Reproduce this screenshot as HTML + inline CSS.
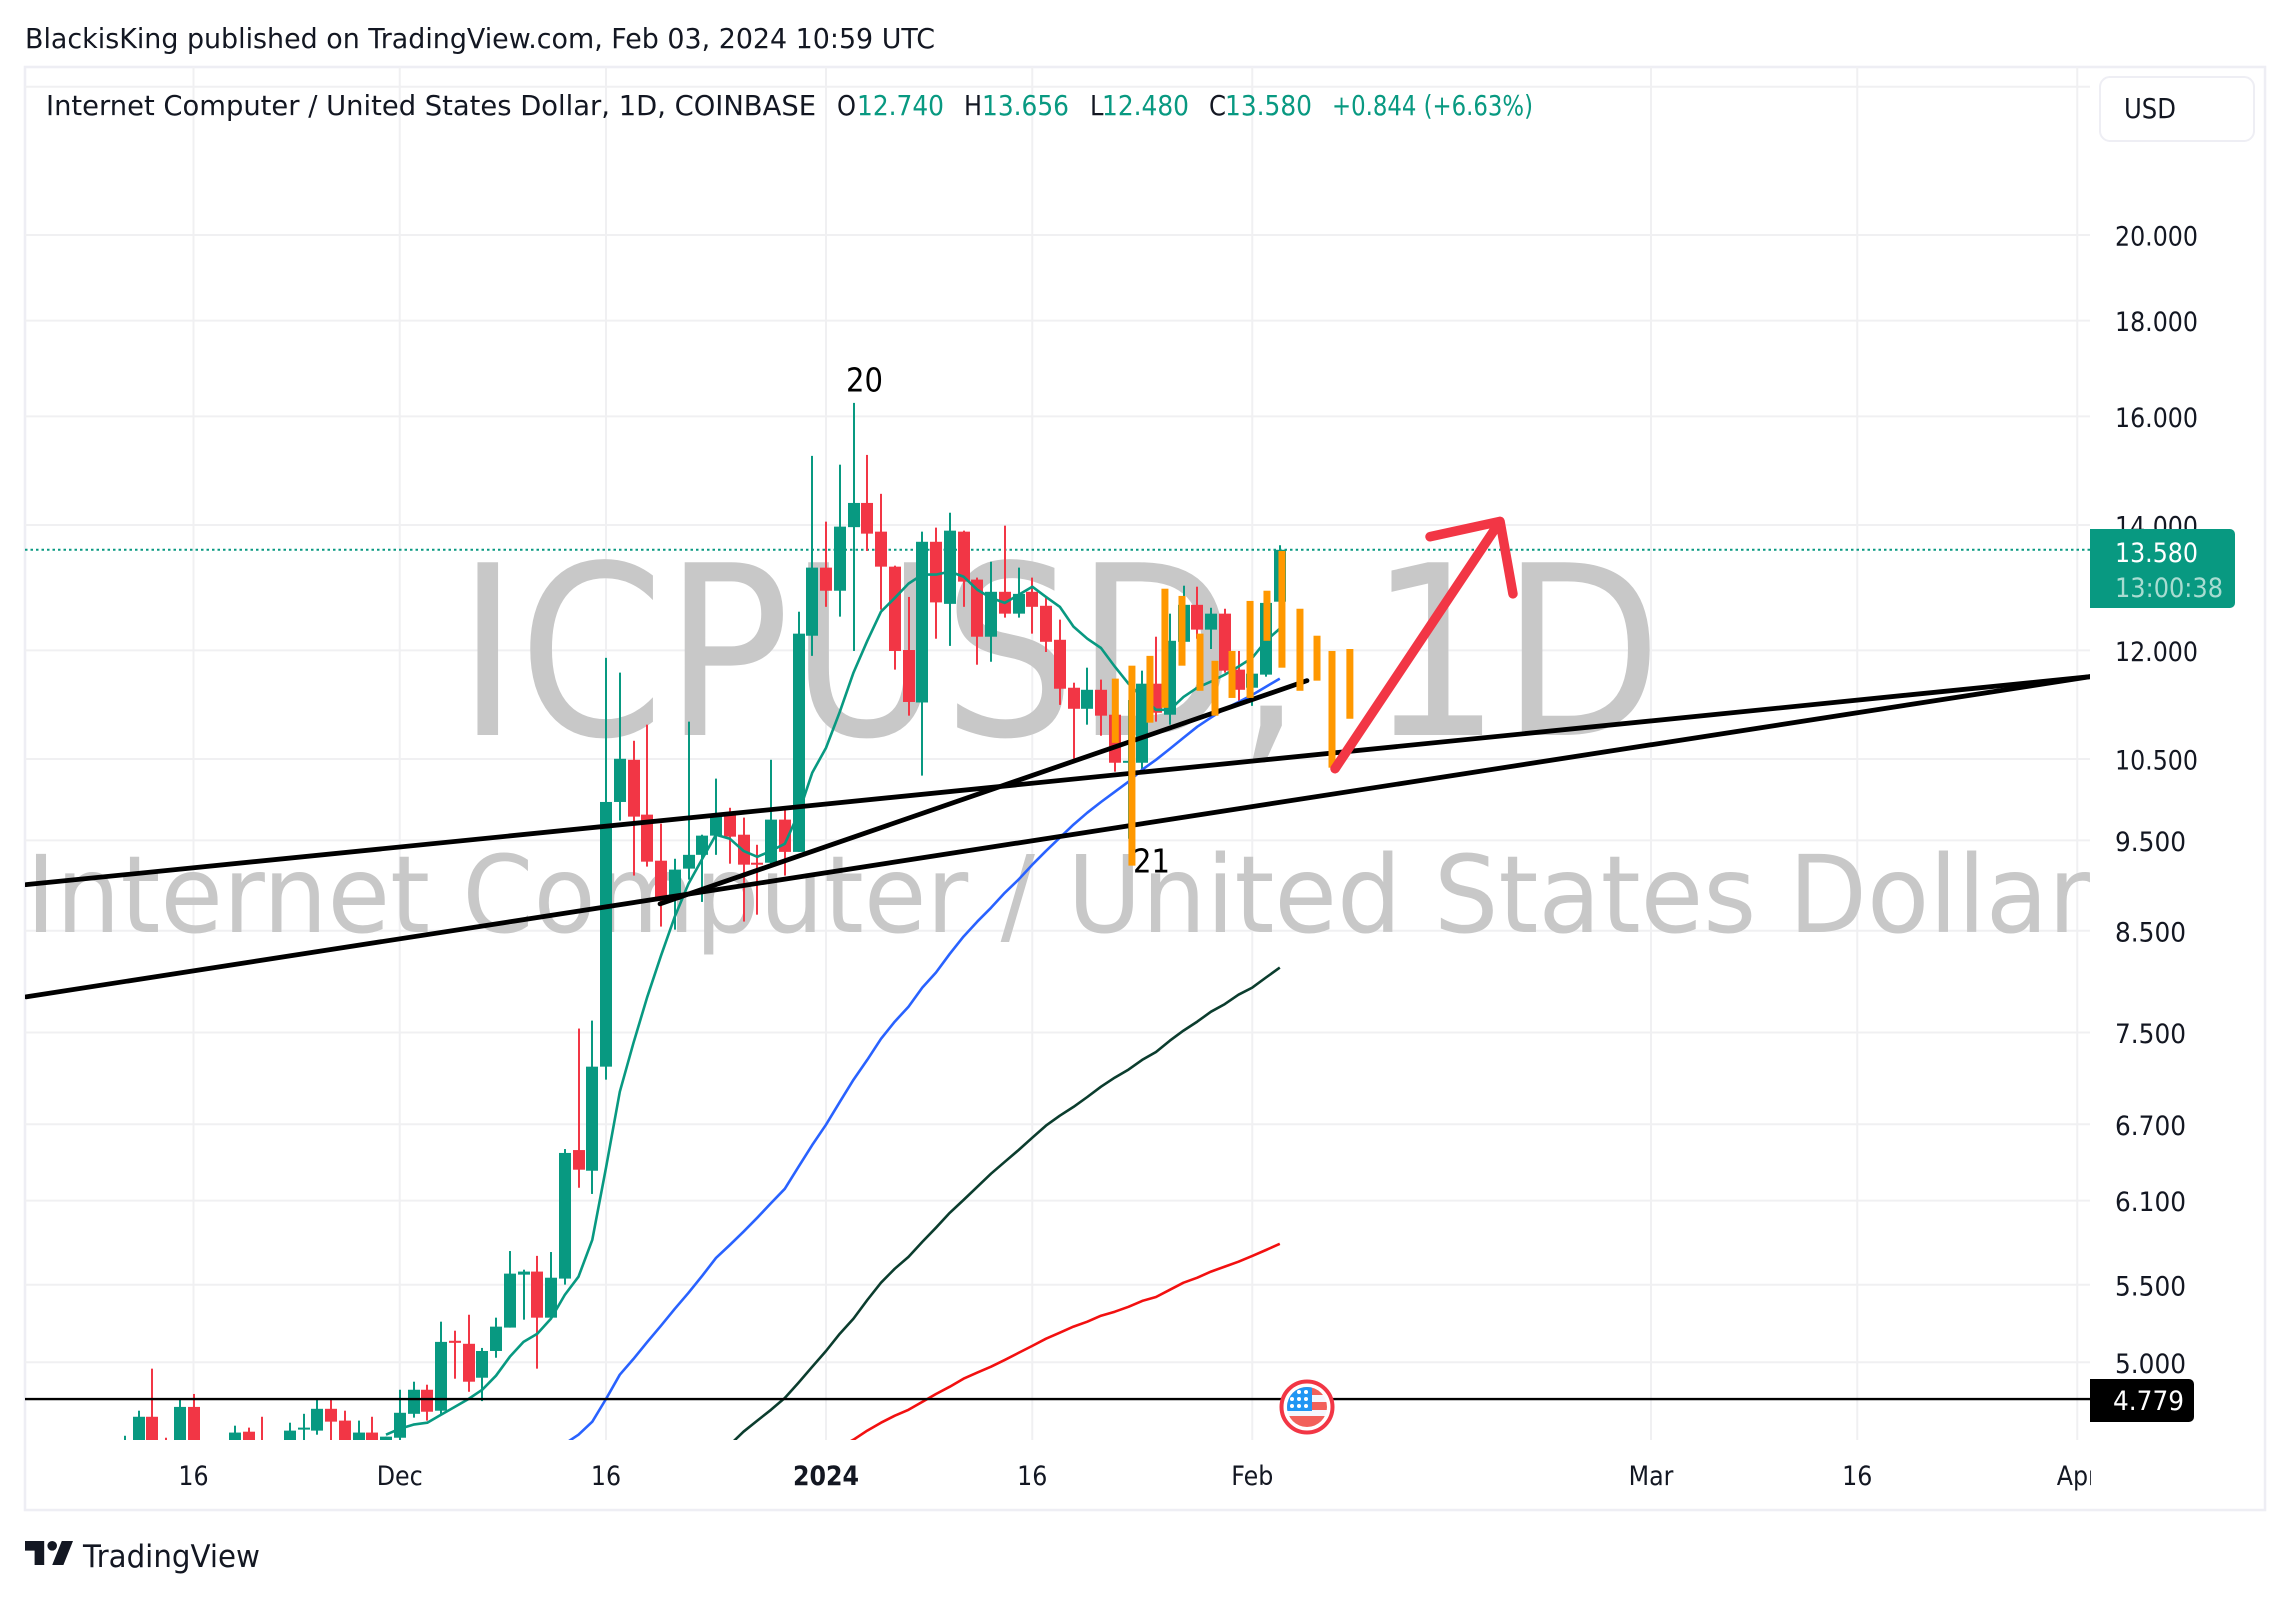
<!DOCTYPE html>
<html lang="en">
<head>
<meta charset="utf-8">
<title>ICPUSD 1D chart</title>
<style>
html,body{margin:0;padding:0;background:#fff;width:2290px;height:1598px;overflow:hidden}
svg{display:block}
text{font-family:"DejaVu Sans","Liberation Sans",sans-serif;fill:#131722}
</style>
</head>
<body>
<svg id="chart" xmlns="http://www.w3.org/2000/svg" width="2290" height="1598" viewBox="0 0 2290 1598">
  <defs>
    <clipPath id="plot-clip"><rect x="25" y="67" width="2065" height="1373"/></clipPath>
    <clipPath id="flag-clip"><circle cx="1307" cy="1407" r="20"/></clipPath>
  </defs>
  <rect x="0" y="0" width="2290" height="1598" fill="#ffffff"/>
  <text x="25" y="48" font-size="27.5" textLength="910" lengthAdjust="spacingAndGlyphs">BlackisKing published on TradingView.com, Feb 03, 2024 10:59 UTC</text>
  <rect x="25" y="67" width="2240" height="1443" fill="none" stroke="#eeeef4" stroke-width="2.5"/>
  <g id="grid"></g>
  <g clip-path="url(#plot-clip)">
    <text x="457" y="735" font-size="237" textLength="1205" lengthAdjust="spacingAndGlyphs" style="fill:#c8c8c8">ICPUSD, 1D</text>
    <text x="26" y="932" font-size="107" textLength="2064" lengthAdjust="spacingAndGlyphs" style="fill:#c8c8c8">Internet Computer / United States Dollar</text>
  </g>
  <g id="plot" clip-path="url(#plot-clip)"></g>
  <g>
    <circle cx="1307" cy="1407" r="25.5" fill="#ffffff" stroke="#f23645" stroke-width="4"/>
    <g clip-path="url(#flag-clip)">
      <rect x="1285" y="1385" width="44" height="44" fill="#f5f7fd"/>
      <rect x="1285" y="1387" width="44" height="8" fill="#f2605a"/>
      <rect x="1285" y="1402" width="44" height="8" fill="#f2605a"/>
      <rect x="1285" y="1416" width="44" height="12" fill="#f2605a"/>
      <rect x="1285" y="1385" width="27" height="26" fill="#2196f3"/>
      <g fill="#ffffff">
        <circle cx="1299" cy="1392" r="2"/><circle cx="1306" cy="1392" r="2"/>
        <circle cx="1292" cy="1399" r="2"/><circle cx="1299" cy="1399" r="2"/><circle cx="1306" cy="1399" r="2"/>
        <circle cx="1292" cy="1406" r="2"/><circle cx="1299" cy="1406" r="2"/><circle cx="1306" cy="1406" r="2"/>
      </g>
    </g>
  </g>
  <g id="price-axis"></g>
  <g id="time-axis"></g>
  <g>
    <path d="M2090 529H2230a5 5 0 0 1 5 5V603a5 5 0 0 1 -5 5H2090Z" fill="#089981"/>
    <text x="2115" y="562" font-size="27" textLength="83" lengthAdjust="spacingAndGlyphs" style="fill:#ffffff">13.580</text>
    <text x="2115" y="597" font-size="27" textLength="108" lengthAdjust="spacingAndGlyphs" style="fill:#a8dcd1">13:00:38</text>
  </g>
  <g>
    <path d="M2090 1379H2189a5 5 0 0 1 5 5V1417a5 5 0 0 1 -5 5H2090Z" fill="#000000"/>
    <text x="2113" y="1410" font-size="27" textLength="71" lengthAdjust="spacingAndGlyphs" style="fill:#ffffff">4.779</text>
  </g>
  <g>
    <text x="46" y="115" font-size="27.5" textLength="770" lengthAdjust="spacingAndGlyphs">Internet Computer / United States Dollar, 1D, COINBASE</text>
    <text x="837" y="115" font-size="27.5" textLength="19" lengthAdjust="spacingAndGlyphs">O</text>
    <text x="857" y="115" font-size="27.5" textLength="87" lengthAdjust="spacingAndGlyphs" style="fill:#089981">12.740</text>
    <text x="964" y="115" font-size="27.5" textLength="18" lengthAdjust="spacingAndGlyphs">H</text>
    <text x="982" y="115" font-size="27.5" textLength="87" lengthAdjust="spacingAndGlyphs" style="fill:#089981">13.656</text>
    <text x="1090" y="115" font-size="27.5" textLength="13.5" lengthAdjust="spacingAndGlyphs">L</text>
    <text x="1102" y="115" font-size="27.5" textLength="87" lengthAdjust="spacingAndGlyphs" style="fill:#089981">12.480</text>
    <text x="1209" y="115" font-size="27.5" textLength="17" lengthAdjust="spacingAndGlyphs">C</text>
    <text x="1225" y="115" font-size="27.5" textLength="87" lengthAdjust="spacingAndGlyphs" style="fill:#089981">13.580</text>
    <text x="1332" y="115" font-size="27.5" textLength="201" lengthAdjust="spacingAndGlyphs" style="fill:#089981">+0.844 (+6.63%)</text>
  </g>
  <g>
    <rect x="2100" y="77" width="154" height="64" rx="10" fill="#ffffff" stroke="#eeeef4" stroke-width="2"/>
    <text x="2124" y="118" font-size="27.5" textLength="52" lengthAdjust="spacingAndGlyphs">USD</text>
  </g>
  <g>
    <path transform="translate(21.8 1531.4) scale(1.6)" fill="#131722" d="M14 6H2v6h6v9h6V6zm12 15h-7l6-15h7l-6 15zm-7-9a3 3 0 1 0 0-6 3 3 0 0 0 0 6z"/>
    <text x="83" y="1567" font-size="31" textLength="177" lengthAdjust="spacingAndGlyphs">TradingView</text>
  </g>
</svg>
<script>
// ---- chart data (prices in USD, days counted from 2024-01-01) ----
const firstCandleDay = -51;
const opens = [4.45,4.45,4.676,4.50,4.45,4.733,4.45,4.42,4.46,4.591,4.52,4.46,4.50,4.603,4.597,4.722,4.654,4.48,4.586,4.46,
4.557,4.693,4.834,4.711,5.134,5.115,4.906,5.070,5.218,5.569,5.590,5.282,5.542,6.491,6.328,7.192,9.959,10.489,9.805,9.265,
8.828,9.175,9.332,9.555,9.805,9.566,9.242,9.242,9.745,9.366,12.218,13.285,12.913,13.963,14.385,13.886,13.301,12.005,11.255,13.714,
12.706,13.886,13.091,12.203,12.896,12.554,12.896,12.676,12.157,11.461,11.168,11.432,11.087,10.451,10.451,11.518,11.087,12.127,12.691,12.310,
12.554,11.719,11.461,11.647,12.740];
const highs = [4.568,4.711,4.961,4.557,4.773,4.809,4.50,4.50,4.625,4.614,4.676,4.52,4.642,4.693,4.773,4.773,4.711,4.654,4.676,4.563,
4.834,4.882,4.864,5.256,5.198,5.301,5.089,5.282,5.733,5.603,5.699,5.726,6.499,7.537,7.611,11.890,11.676,10.737,10.952,9.697,
9.287,10.993,9.566,10.249,9.888,9.769,9.448,10.489,9.864,12.584,15.242,14.058,15.078,16.268,15.26,14.547,13.317,12.815,13.886,13.955,
14.213,13.903,13.123,13.382,13.989,13.285,13.123,12.799,12.462,11.532,11.747,11.576,11.114,11.289,11.704,12.203,12.554,12.993,12.977,12.645,
12.630,11.991,11.747,12.752,13.656];
const lows = [4.40,4.40,4.40,4.40,4.40,4.40,4.40,4.38,4.40,4.38,4.40,4.40,4.42,4.42,4.574,4.45,4.42,4.42,4.42,4.42,
4.534,4.671,4.654,4.688,4.900,4.822,4.767,5.028,5.218,5.269,4.961,5.282,5.501,6.197,6.150,7.078,9.733,9.097,9.198,8.544,
8.512,9.052,8.807,9.332,9.231,8.597,8.670,9.209,9.097,9.366,11.919,12.660,12.508,11.991,13.560,12.615,11.719,11.074,10.287,12.173,
12.066,12.660,11.790,11.833,12.493,12.493,12.249,11.976,11.222,10.502,10.952,10.804,10.337,9.519,10.363,10.993,10.952,12.096,12.173,12.020,
11.676,11.276,11.208,11.618,12.480];
const closes = [4.534,4.676,4.45,4.45,4.733,4.45,4.42,4.46,4.586,4.46,4.46,4.50,4.597,4.614,4.722,4.648,4.48,4.586,4.46,4.563,
4.699,4.834,4.705,5.127,5.121,4.882,5.070,5.224,5.576,5.590,5.282,5.548,6.468,6.336,7.192,9.959,10.502,9.781,9.254,8.828,
9.164,9.332,9.555,9.793,9.543,9.220,9.220,9.745,9.366,12.249,13.285,12.913,13.972,14.385,13.852,13.301,11.991,11.262,13.714,12.729,
13.903,13.058,12.203,12.896,12.554,12.863,12.660,12.127,11.447,11.168,11.432,11.074,10.451,10.476,11.518,11.114,12.142,12.691,12.310,12.554,
11.704,11.432,11.661,12.721,13.580];

const maFastStartDay = -32;
const maFast = [4.574,4.608,4.631,4.642,4.688,4.733,4.779,4.834,4.918,5.034,
5.127,5.179,5.276,5.432,5.555,5.813,6.352,6.973,7.406,7.837,
8.243,8.649,9.007,9.287,9.566,9.519,9.377,9.310,9.377,9.459,
9.816,10.325,10.643,11.127,11.676,12.142,12.584,12.799,13.026,13.172,
13.172,13.220,13.139,12.929,12.799,12.721,12.847,12.977,12.815,12.660,
12.356,12.173,12.035,11.762,11.518,11.332,11.154,11.154,11.332,11.461,
11.547,11.647,11.762,11.890,12.142,12.325];
const maMidStartDay = -19;
const maMid = [4.523,4.574,4.648,4.779,4.924,5.021,5.127,5.230,5.340,5.446,
5.562,5.685,5.776,5.871,5.973,6.081,6.189,6.359,6.532,6.697,
6.887,7.078,7.253,7.443,7.602,7.742,7.926,8.075,8.263,8.439,
8.597,8.744,8.906,9.052,9.220,9.377,9.531,9.685,9.828,9.959,
10.084,10.21,10.363,10.489,10.63,10.777,10.925,11.047,11.168,11.262,
11.361,11.475,11.590];
const maSlowStartDay = -7;
const maSlow = [4.517,4.591,4.654,4.716,4.785,4.876,4.973,5.070,5.179,5.276,
5.398,5.514,5.610,5.692,5.798,5.900,6.009,6.104,6.204,6.305,
6.398,6.491,6.590,6.689,6.771,6.845,6.929,7.017,7.096,7.166,
7.253,7.323,7.425,7.518,7.602,7.695,7.767,7.857,7.926,8.025,8.124];
const maLongStartDay = 1;
const maLong = [4.506,4.546,4.597,4.642,4.682,4.716,4.762,4.809,4.852,4.900,
4.937,4.973,5.015,5.058,5.102,5.147,5.185,5.224,5.256,5.295,
5.321,5.353,5.392,5.418,5.466,5.514,5.548,5.590,5.624,5.658,
5.699,5.740,5.784];

const ghostDays = [21.04,22.25,23.56,24.65,25.89,27.2,28.29,29.53,30.84,32.07,33.16,34.47,35.71,36.8,38.1];
const ghostHighs = [11.590,11.776,11.919,12.945,12.831,12.249,11.847,11.991,12.752,12.913,13.560,12.630,12.218,11.991,12.020];
const ghostLows = [10.710,9.209,10.979,11.181,11.776,11.418,11.074,11.318,11.318,12.142,11.747,11.418,11.561,10.388,11.032];

const trendDays = [[-58.18,91.93],[-58.18,91.93],[-12.07,34.98]];
const trendPrices = [[8.996,11.618],[7.837,11.618],[8.786,11.561]];
const levelPrice = 4.779;
const lastPrice = 13.58;
const arrowDays = [37.02,49.02,43.93,49.96];
const arrowPrices = [10.375,14.063,13.800,12.864];

const priceTicks = [20,18,16,14,12,10.5,9.5,8.5,7.5,6.7,6.1,5.5,5];
const hiddenPriceTicks = [24];
const timeTickDays = [-46,-31,-16,0,15,31,60,75,91];
const timeTickLabels = ['16','Dec','16','2024','16','Feb','Mar','16','Apr'];
const pivotLabels = ['20','21'];
const pivotDays = [2.8,23.67];
const pivotPrices = [16.50,9.13];

// ---- axis functions ----
function xOf(day){ return 826 + 13.75 * day; }
function yOf(price){ return 525 + 813.2 * Math.log(14 / price); }

const NS = 'http://www.w3.org/2000/svg';
function mk(parent, tag, attrs){
  const el = document.createElementNS(NS, tag);
  for (const k in attrs) el.setAttribute(k, attrs[k]);
  parent.appendChild(el);
  return el;
}
function narrow(t){
  t.setAttribute('textLength', (t.getComputedTextLength() * 0.88).toFixed(1));
  t.setAttribute('lengthAdjust', 'spacingAndGlyphs');
}

const GREEN = '#089981', RED = '#f23645', GRID = '#f0f0f2';
const grid = document.getElementById('grid');
const plot = document.getElementById('plot');
const priceAxis = document.getElementById('price-axis');
const timeAxis = document.getElementById('time-axis');

const aprClip = mk(document.querySelector('defs'), 'clipPath', {id:'plot-clip-x'});
mk(aprClip, 'rect', {x:25, y:1440, width:2066, height:70});

// grid + axes
priceTicks.concat(hiddenPriceTicks).forEach(function(p){
  const y = yOf(p);
  const g = mk(grid, 'line', {x1:25, x2:2090, y1:y, y2:y, stroke:GRID, 'stroke-width':2});
  
  
});
timeTickDays.forEach(function(d, i){
  const x = xOf(d);
  const g = mk(grid, 'line', {x1:x, x2:x, y1:67, y2:1440, stroke:GRID, 'stroke-width':2});
  
  
  const t = mk(timeAxis, 'text', {x:x, y:1485, 'font-size':27, 'text-anchor':'middle'});
  
  
  if (timeTickLabels[i] === '2024') t.setAttribute('font-weight', 'bold');
  if (timeTickLabels[i] === 'Apr') t.setAttribute('clip-path', 'url(#plot-clip-x)');
  t.textContent = timeTickLabels[i];
  narrow(t);
});
priceTicks.forEach(function(p){
  const label = p.toFixed(3);
  const t = mk(priceAxis, 'text', {x:2115, y:yOf(p) + 10.5, 'font-size':27, textLength:(label.length === 5 ? 71 : 83), lengthAdjust:'spacingAndGlyphs'});
  
  
  t.textContent = label;
});

// last price dotted line
const lastLine = mk(plot, 'line', {x1:25, x2:2090, y1:yOf(lastPrice), y2:yOf(lastPrice), stroke:GREEN, 'stroke-width':2, 'stroke-dasharray':'2.5 3'});



// candles
closes.forEach(function(c, i){
  const o = opens[i], h = highs[i], l = lows[i];
  const x = Math.round(xOf(firstCandleDay + i));
  const col = c >= o ? GREEN : RED;
  const g = mk(plot, 'g', {});
  
  
  const wick = mk(g, 'rect', {x:x - 1, y:yOf(h), width:2, height:yOf(l) - yOf(h), fill:col});
  
  
  const top = yOf(Math.max(o, c));
  const bh = Math.max(2, yOf(Math.min(o, c)) - top);
  const body = mk(g, 'rect', {x:x - 6, y:top, width:12, height:bh, fill:col});
  
  
});

// moving averages
function pathFrom(values, startDay){
  return values.map(function(v, i){ return (i ? 'L' : 'M') + xOf(startDay + i).toFixed(1) + ' ' + yOf(v).toFixed(1); }).join('');
}
const maFastLine = mk(plot, 'path', {d:pathFrom(maFast, maFastStartDay), fill:'none', stroke:GREEN, 'stroke-width':2.6, 'stroke-linejoin':'round'});


const maMidLine = mk(plot, 'path', {d:pathFrom(maMid, maMidStartDay), fill:'none', stroke:'#2962ff', 'stroke-width':2.6, 'stroke-linejoin':'round'});


const maSlowLine = mk(plot, 'path', {d:pathFrom(maSlow, maSlowStartDay), fill:'none', stroke:'#0b3d2e', 'stroke-width':2.6, 'stroke-linejoin':'round'});


const maLongLine = mk(plot, 'path', {d:pathFrom(maLong, maLongStartDay), fill:'none', stroke:'#f21010', 'stroke-width':2.6, 'stroke-linejoin':'round'});



// horizontal level
const level = mk(plot, 'line', {x1:25, x2:2090, y1:yOf(levelPrice), y2:yOf(levelPrice), stroke:'#000000', 'stroke-width':2.4});



// trend lines
trendDays.forEach(function(days, i){
  const ln = mk(plot, 'line', {x1:xOf(days[0]), y1:yOf(trendPrices[i][0]), x2:xOf(days[1]), y2:yOf(trendPrices[i][1]), stroke:'#000000', 'stroke-width':4.8, 'stroke-linecap':'round'});
  
  
});

// ghost feed bars
ghostDays.forEach(function(d, i){
  const top = yOf(ghostHighs[i]);
  const bar = mk(plot, 'rect', {x:xOf(d) - 3.5, y:top, width:7, height:yOf(ghostLows[i]) - top, fill:'#ff9800'});
  
  
});

// pivot labels
pivotLabels.forEach(function(label, i){
  const t = mk(plot, 'text', {x:xOf(pivotDays[i]), y:yOf(pivotPrices[i]), 'font-size':33, 'text-anchor':'middle'});
  
  
  t.style.fill = '#000000';
  t.textContent = label;
  narrow(t);
});

// arrow drawing
const ax = arrowDays.map(xOf), ay = arrowPrices.map(yOf);
const arrow = mk(plot, 'path', {d:'M' + ax[0] + ' ' + ay[0] + 'L' + ax[1] + ' ' + ay[1] + 'M' + ax[2] + ' ' + ay[2] + 'L' + ax[1] + ' ' + ay[1] + 'L' + ax[3] + ' ' + ay[3], fill:'none', stroke:RED, 'stroke-width':9.5, 'stroke-linecap':'round', 'stroke-linejoin':'round'});


</script>
</body>
</html>
